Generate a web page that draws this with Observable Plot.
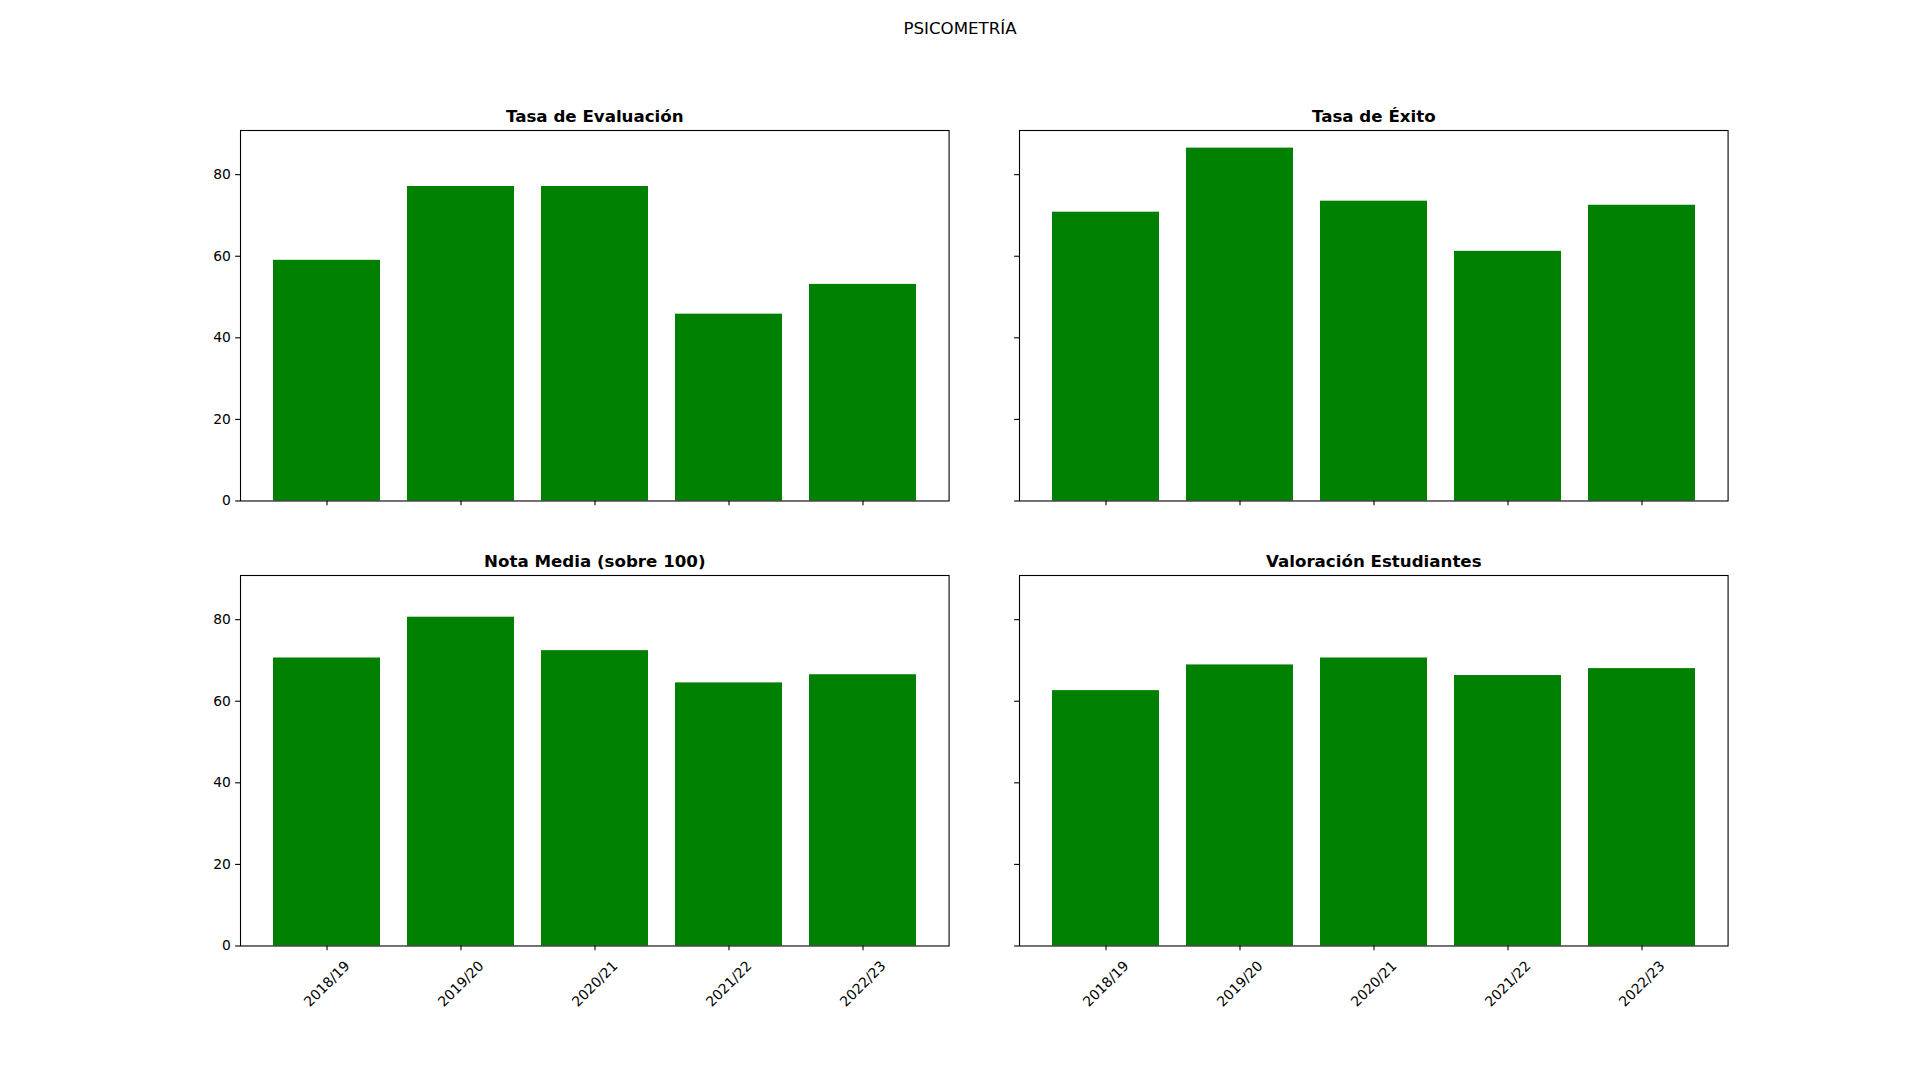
<!DOCTYPE html>
<html><head><meta charset="utf-8">
<script src="https://cdn.jsdelivr.net/npm/d3@7"></script>
<script src="https://cdn.jsdelivr.net/npm/@observablehq/plot@0.6"></script>
<style>
html,body{margin:0;padding:0;background:#fff;}
#fig{position:relative;width:1920px;height:1080px;background:#fff;font-family:"DejaVu Sans";overflow:hidden;}
#sup{position:absolute;left:0;width:1920px;top:18.5px;text-align:center;font-size:16.67px;color:#000;line-height:normal;font-family:"DejaVu Sans";}
</style></head><body>
<div id="fig"><div id="sup">PSICOMETRÍA</div></div>
<script>
const years = ["2018/19", "2019/20", "2020/21", "2021/22", "2022/23"];
const tasaEvaluacion = [59.0, 77.1, 77.1, 45.8, 53.1];
const tasaExito = [70.8, 86.5, 73.5, 61.2, 72.5];
const notaMedia = [70.6, 80.6, 72.4, 64.5, 66.5];
const valoracion = [62.6, 68.9, 70.6, 66.3, 68.0];
const titles = ["Tasa de Evaluación", "Tasa de Éxito", "Nota Media (sobre 100)", "Valoración Estudiantes"];
const yTicks = [0, 20, 40, 60, 80];

const series = [tasaEvaluacion, tasaExito, notaMedia, valoracion];
const yMax = d3.max(series.flat()) * 1.05;

const colLeft = [240, 1019.4];
const rowTop = [130.3, 574.6];
const W = 708.6, H = 370.5;
const mL = 70, mR = 20, mT = 40, mB = 90;
const fig = document.getElementById("fig");

series.forEach((vals, k) => {
  const col = k % 2, row = Math.floor(k / 2);
  const data = years.map((y, i) => ({year: y, value: vals[i]}));
  const marks = [
    Plot.barY(data, {x: "year", y: "value", fill: "#008000"}),
    Plot.axisY({ticks: yTicks, tickSize: 4.86, tickPadding: 4.86, strokeWidth: 1.1,
      tickFormat: col === 0 ? (d => String(d)) : (() => ""), label: null}),
    Plot.axisX({tickSize: 4.86, tickFormat: () => "", strokeWidth: 1.1, label: null}),
    Plot.frame({stroke: "black", strokeWidth: 1.1}),
    Plot.text([titles[k]], {text: d => d, frameAnchor: "top", dy: -8.3, lineAnchor: "bottom",
      fontWeight: "bold", fontSize: 16.67})
  ];
  if (row === 1) {
    marks.push(Plot.text(years, {x: d => d, text: d => d, frameAnchor: "bottom", dy: 38,
      rotate: -45, textAnchor: "middle", lineAnchor: "middle", fontSize: 13.9}));
  }
  const chart = Plot.plot({
    width: mL + W + mR, height: mT + H + mB,
    marginLeft: mL, marginRight: mR, marginTop: mT, marginBottom: mB,
    x: {type: "band", domain: years, paddingInner: 0.2, paddingOuter: 0.24, align: 0.5},
    y: {domain: [0, yMax]},
    style: {fontFamily: "DejaVu Sans", fontSize: "13.9px", color: "black", background: "transparent", overflow: "visible"},
    marks
  });
  chart.style.position = "absolute";
  chart.style.left = (colLeft[col] - mL) + "px";
  chart.style.top = (rowTop[row] - mT) + "px";
  fig.appendChild(chart);
});
</script>
</body></html>
